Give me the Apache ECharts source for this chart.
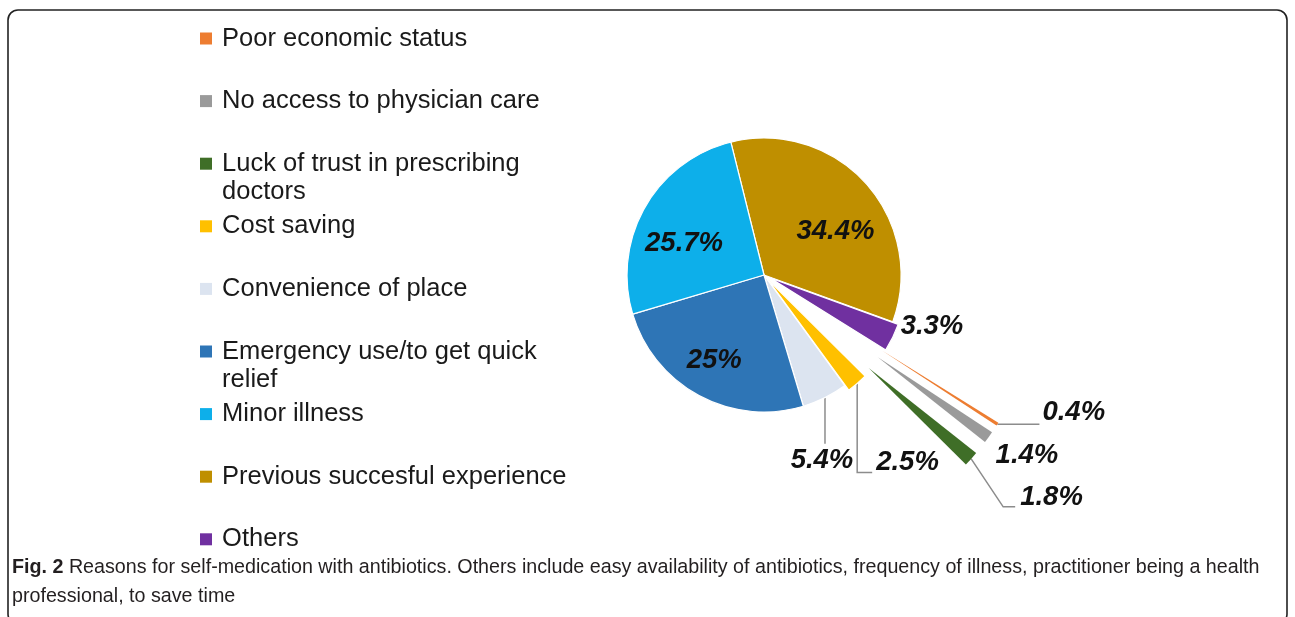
<!DOCTYPE html>
<html><head><meta charset="utf-8">
<script src="https://cdn.jsdelivr.net/npm/echarts@6/dist/echarts.min.js"></script>
<style>html,body{margin:0;padding:0;background:#fff}#c{width:1295px;height:617px}</style>
</head><body><div id="c"></div>
<script>
// ---- data ----
const categories = [
  'Previous succesful experience', 'Others', 'Poor economic status',
  'No access to physician care', 'Luck of trust in prescribing doctors',
  'Cost saving', 'Convenience of place', 'Emergency use/to get quick relief', 'Minor illness'
];
const values = [34.4, 3.3, 0.4, 1.4, 1.8, 2.5, 5.4, 25, 25.7];
const valueLabels = ['34.4%', '3.3%', '0.4%', '1.4%', '1.8%', '2.5%', '5.4%', '25%', '25.7%'];
const sliceColors = ['#BF8F00', '#7030A0', '#ED7D31', '#9A9A9A', '#3F6E27', '#FFC000', '#DCE4F0', '#2E75B6', '#0DAFEA'];
const legendOrder = [
  'Poor economic status', 'No access to physician care', 'Luck of trust in prescribing doctors',
  'Cost saving', 'Convenience of place', 'Emergency use/to get quick relief',
  'Minor illness', 'Previous succesful experience', 'Others'
];
const legendText = [
  ['Poor economic status'], ['No access to physician care'], ['Luck of trust in prescribing', 'doctors'],
  ['Cost saving'], ['Convenience of place'], ['Emergency use/to get quick', 'relief'],
  ['Minor illness'], ['Previous succesful experience'], ['Others']
];
const captionBold = 'Fig. 2';
const captionLines = [
  ' Reasons for self-medication with antibiotics. Others include easy availability of antibiotics, frequency of illness, practitioner being a health',
  'professional, to save time'
];

// ---- layout / style config ----
const CX = 764, CY = 275, R = 137, START = 104;
const explodeGroups = [
  { offset: 0, border: 1.2, names: ['Previous succesful experience', 'Minor illness', 'Emergency use/to get quick relief', 'Convenience of place'] },
  { offset: 6, border: 1.2, names: ['Others', 'Cost saving'] },
  { offset: 140, border: 0, names: ['Poor economic status', 'No access to physician care', 'Luck of trust in prescribing doctors'] }
];
const insideNames = ['Previous succesful experience', 'Minor illness', 'Emergency use/to get quick relief'];
const placement = {
  'Previous succesful experience': { dx: 3, dy: 18 },
  'Minor illness': { dx: 0, dy: 14 },
  'Emergency use/to get quick relief': { dx: -6, dy: 4 },
  'Others': { tx: 8, ty: -11, line: [] },
  'Cost saving': { tx: 19, ty: 79, line: [[0, 89], [15, 89]] },
  'Convenience of place': { tx: -3, ty: 63, align: 'center', line: [[0, 46]] },
  'Poor economic status': { tx: 45, ty: -12, line: [[42, 0]] },
  'No access to physician care': { tx: 7, ty: 18, line: [] },
  'Luck of trust in prescribing doctors': { tx: 49, ty: 39, line: [[32, 48], [44, 48]] }
};
const FONT = 'Liberation Sans, Arial, sans-serif';
const labelFont = { fontFamily: FONT, fontSize: 27.5, fontWeight: 'bold', fontStyle: 'italic', color: '#111' };
const clear = 'rgba(0,0,0,0)';

function visualSeries(g) {
  return {
    type: 'pie', center: [CX, CY], radius: [0, R], startAngle: START, clockwise: true,
    selectedMode: 'multiple', selectedOffset: g.offset, avoidLabelOverlap: false,
    label: { show: false }, labelLine: { show: false }, emphasis: { disabled: true },
    select: { itemStyle: { borderColor: '#fff', borderWidth: g.border } },
    silent: true, animation: false,
    data: categories.map((n, i) => g.names.includes(n)
      ? { name: n, value: values[i], selected: g.offset > 0, itemStyle: { color: sliceColors[i], borderColor: '#fff', borderWidth: g.border } }
      : { name: n, value: values[i], itemStyle: { color: clear, borderWidth: 0 } })
  };
}

function outerLabelSeries(g) {
  return {
    type: 'pie', center: [CX, CY], radius: [0, R + g.offset], startAngle: START, clockwise: true,
    avoidLabelOverlap: false, silent: true, animation: false, emphasis: { disabled: true },
    itemStyle: { color: clear, borderWidth: 0 },
    label: Object.assign({ show: true, position: 'outside', formatter: p => valueLabels[p.dataIndex] }, labelFont),
    labelLine: { show: true, length: 0, length2: 0, lineStyle: { color: '#8c8c8c', width: 1.5 } },
    data: categories.map((n, i) => {
      const on = g.names.includes(n) && !insideNames.includes(n);
      return on ? { name: n, value: values[i] }
        : { name: n, value: values[i], label: { show: false }, labelLine: { show: false } };
    }),
    labelLayout: function (p) {
      const t = placement[categories[p.dataIndex]];
      if (!t || !p.labelLinePoints) return {};
      const a = p.labelLinePoints[0];
      const pts = [[a[0], a[1]]];
      t.line.forEach(q => pts.push([a[0] + q[0], a[1] + q[1]]));
      while (pts.length < 3) pts.push(pts[pts.length - 1].slice());
      return { x: a[0] + t.tx, y: a[1] + t.ty, align: t.align || 'left', verticalAlign: 'middle', labelLinePoints: pts };
    }
  };
}

const insideSeries = {
  type: 'pie', center: [CX, CY], radius: [0, R * 1.3], startAngle: START, clockwise: true,
  avoidLabelOverlap: false, silent: true, animation: false, emphasis: { disabled: true },
  itemStyle: { color: clear, borderWidth: 0 },
  label: Object.assign({ show: true, position: 'inside', formatter: p => valueLabels[p.dataIndex] }, labelFont),
  labelLine: { show: false },
  data: categories.map((n, i) => insideNames.includes(n) ? { name: n, value: values[i] }
    : { name: n, value: values[i], label: { show: false } }),
  labelLayout: function (p) {
    const t = placement[categories[p.dataIndex]];
    if (!t) return {};
    const r = p.labelRect;
    return { x: r.x + r.width / 2 + t.dx, y: r.y + r.height / 2 + t.dy, align: 'center', verticalAlign: 'middle' };
  }
};

const LINE_H = 28;
const legends = legendOrder.map((n, i) => {
  const lines = legendText[i];
  // a blank first line keeps the icon aligned with the first text line
  const shown = (lines.length > 1 ? [' '] : []).concat(lines.map(s => '\u2009' + s));
  const centerY = 38.5 + i * 62.6;
  return {
    orient: 'vertical', left: 200, top: centerY - shown.length * LINE_H / 2, padding: 0,
    icon: 'rect', itemWidth: 12, itemHeight: 12, selectedMode: false,
    data: [{ name: n, itemStyle: { color: sliceColors[categories.indexOf(n)], borderWidth: 0, opacity: 1 } }],
    formatter: () => shown.join('\n'),
    textStyle: { fontFamily: FONT, fontSize: 25.5, color: '#1a1a1a', lineHeight: LINE_H }
  };
});

const chart = echarts.init(document.getElementById('c'));
chart.setOption({
  backgroundColor: '#fff',
  animation: false,
  title: {
    left: 12, top: 553, padding: 0,
    text: '{b|' + captionBold + '}' + captionLines.join('\n'),
    textStyle: {
      fontFamily: FONT, fontSize: 19.7, fontWeight: 'normal', color: '#231f20', lineHeight: 29,
      rich: { b: { fontFamily: FONT, fontSize: 19.7, fontWeight: 'bold', color: '#231f20', lineHeight: 29 } }
    }
  },
  legend: legends,
  graphic: [{
    type: 'rect', silent: true, z: -10,
    shape: { x: 8, y: 10, width: 1279, height: 614, r: 10 },
    style: { fill: 'none', stroke: '#222', lineWidth: 1.6 }
  }],
  series: explodeGroups.map(visualSeries)
    .concat(explodeGroups.map(outerLabelSeries))
    .concat([insideSeries])
});
</script></body></html>
